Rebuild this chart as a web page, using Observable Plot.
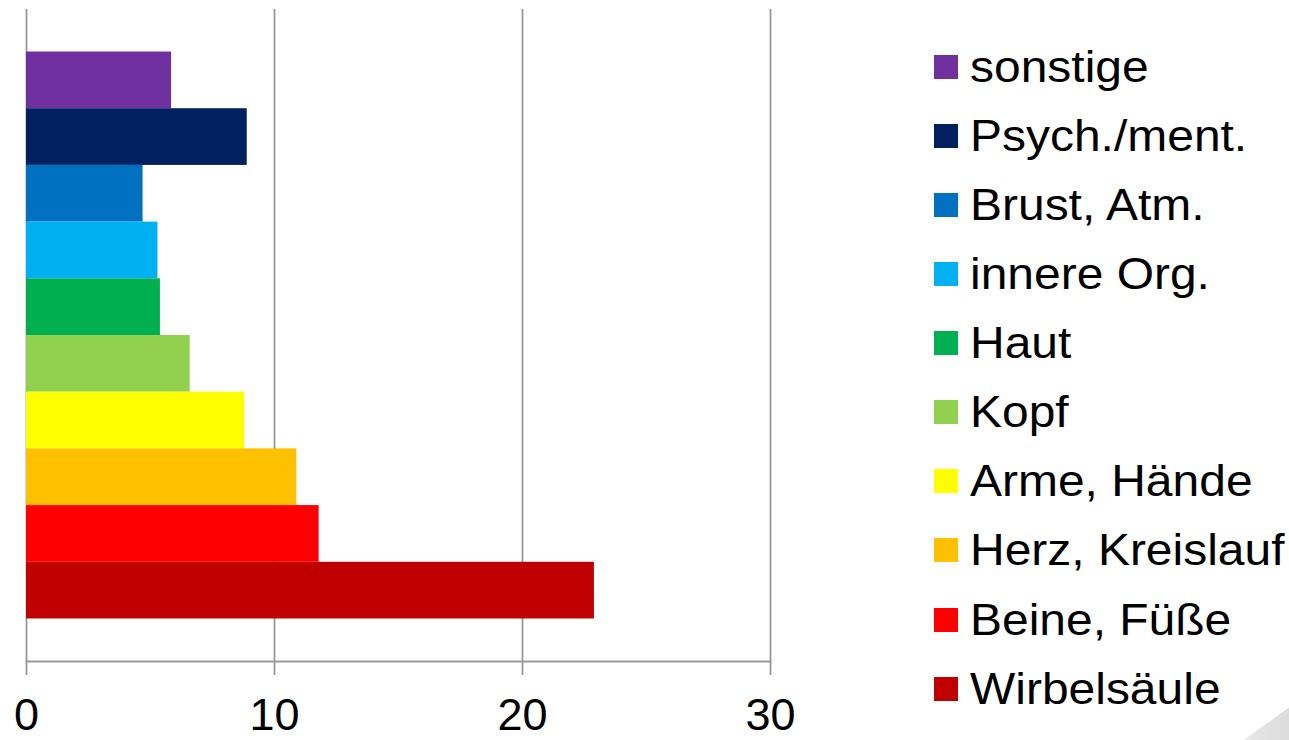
<!DOCTYPE html>
<html>
<head>
<meta charset="utf-8">
<script src="https://cdn.jsdelivr.net/npm/d3@7"></script>
<script src="https://cdn.jsdelivr.net/npm/@observablehq/plot@0.6"></script>
<style>
  html, body { margin: 0; padding: 0; background: #fff; }
  #wrap { position: relative; width: 1289px; height: 740px; overflow: hidden; font-family: "Liberation Sans", Arial, sans-serif; }
  #chart { position: absolute; left: 0; top: 0; }
  .leg { position: absolute; left: 934px; height: 24px; }
  .leg .sw { position: absolute; left: 0; top: 0; width: 24px; height: 24px; }
  .leg .lb { position: absolute; left: 36px; top: 12px; transform: translateY(-50%) scaleX(1.09); transform-origin: left center; font-size: 44px; line-height: 1; white-space: nowrap; color: #000; }
  #deco { position: absolute; left: 1160px; top: 690px; width: 129px; height: 50px; background: linear-gradient(to right, #ffffff, #dcdcdc); clip-path: polygon(100% 35%, 100% 100%, 65% 100%); }
</style>
</head>
<body>
<div id="wrap">
  <div id="chart"></div>
  <div id="legend"></div>
  <div id="deco"></div>
</div>
<script>
const categories = ["sonstige", "Psych./ment.", "Brust, Atm.", "innere Org.", "Haut", "Kopf", "Arme, Hände", "Herz, Kreislauf", "Beine, Füße", "Wirbelsäule"];
const values = [5.85, 8.9, 4.7, 5.3, 5.4, 6.6, 8.8, 10.9, 11.8, 22.9];
const colors = ["#7030A0", "#002060", "#0070C0", "#00B0F0", "#00B050", "#92D050", "#FFFF00", "#FFC000", "#FF0000", "#C00000"];
const xTicks = [0, 10, 20, 30];

const data = categories.map((c, i) => ({cat: c, value: values[i]}));

const chart = Plot.plot({
  width: 1289,
  height: 740,
  marginLeft: 26,
  marginRight: 519,
  marginTop: 9,
  marginBottom: 79,
  style: {fontFamily: "'Liberation Sans', Arial, sans-serif", background: "transparent"},
  x: {domain: [0, 30], axis: null},
  y: {domain: categories, axis: null, paddingInner: 0, paddingOuter: 0.75, round: false},
  color: {domain: categories, range: colors},
  marks: [
    Plot.ruleX(xTicks, {stroke: "#999999", strokeWidth: 1.8, insetBottom: -14}),
    Plot.barX(data, {x: "value", y: "cat", fill: "cat"}),
    Plot.frame({anchor: "bottom", stroke: "#999999", strokeWidth: 1.8}),
    Plot.text(xTicks, {x: d => d, text: d => String(d), frameAnchor: "bottom", lineAnchor: "top", dy: 37, fontSize: 45, fill: "#000"})
  ]
});
document.getElementById("chart").appendChild(chart);

const legend = document.getElementById("legend");
categories.forEach((c, i) => {
  const row = document.createElement("div");
  row.className = "leg";
  row.style.top = (66.7 + i * 69.1 - 12) + "px";
  const sw = document.createElement("div");
  sw.className = "sw";
  sw.style.background = colors[i];
  const lb = document.createElement("div");
  lb.className = "lb";
  lb.textContent = c;
  row.appendChild(sw);
  row.appendChild(lb);
  legend.appendChild(row);
});
</script>
</body>
</html>
